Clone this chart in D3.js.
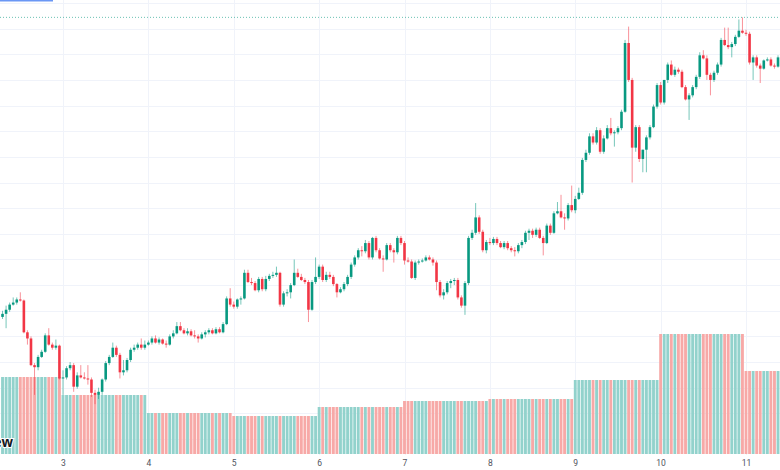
<!DOCTYPE html>
<html><head><meta charset="utf-8">
<script src="https://cdn.jsdelivr.net/npm/d3@7"></script>
<style>html,body{margin:0;padding:0;background:#fff;overflow:hidden}</style>
</head><body>
<svg id="c" width="780" height="470"></svg>
<script>
// hourly OHLC (arbitrary price units), one row per day (day 2 partial, day 11 partial)
const open = [
1119,1122,1126,1131,1133,1136,1135,1104,1098,1072,1070,1080,1085,1101,1092,1089,1091,
1059,1060,1069,1072,1051,1062,1060,1059,1058,1045,1043,1046,1058,1074,1080,1089,1082,1065,1067,1077,1087,1089,1092,1089,
1092,1094,1098,1094,1097,1093,1092,1100,1103,1110,1106,1103,1105,1101,1100,1098,1102,1104,1106,1103,1107,1104,1112,1137,
1131,1129,1136,1137,1162,1153,1152,1145,1156,1146,1156,1159,1160,1162,1131,1142,1143,1150,1162,1158,1155,1153,1126,1153,
1158,1168,1155,1160,1158,1151,1143,1146,1151,1158,1170,1177,1184,1183,1191,1177,1196,1184,1176,1175,1189,1184,1182,1196,
1191,1174,1173,1157,1172,1173,1174,1177,1175,1172,1153,1140,1143,1152,1154,1155,1138,1130,1152,1196,1201,1216,1202,1184,
1192,1191,1195,1191,1187,1191,1186,1184,1183,1189,1192,1201,1203,1199,1204,1196,1191,1208,1201,1220,1222,1216,1215,1228,
1223,1234,1240,1272,1279,1295,1289,1301,1280,1293,1303,1298,1299,1303,1319,1386,1350,1284,1304,1273,1282,1294,1304,1324,
1345,1328,1350,1365,1355,1360,1358,1343,1331,1335,1343,1353,1374,1371,1355,1350,1357,1365,1389,1384,1382,1385,1392,1398,
1396,1395,1367,1372,1364,1361,1369,1370,1364,1363];
const high = [
1125,1130,1133,1138,1138,1143,1136,1106,1100,1074,1082,1087,1103,1108,1094,1097,1092,
1067,1071,1075,1074,1065,1072,1065,1072,1060,1048,1050,1059,1076,1082,1094,1091,1084,1077,1079,1089,1092,1094,1098,1096,
1096,1100,1101,1099,1098,1096,1102,1106,1114,1114,1108,1108,1107,1106,1102,1104,1106,1108,1108,1109,1109,1114,1139,1147,
1134,1137,1139,1165,1165,1157,1154,1158,1158,1159,1161,1163,1168,1163,1144,1146,1152,1175,1166,1161,1157,1155,1155,1177,
1170,1170,1163,1163,1160,1152,1148,1153,1160,1172,1179,1186,1188,1194,1193,1197,1198,1186,1179,1191,1191,1186,1198,1198,
1193,1177,1175,1174,1175,1176,1179,1179,1177,1174,1155,1146,1154,1156,1157,1157,1140,1154,1198,1204,1230,1218,1204,1194,
1196,1197,1197,1193,1193,1193,1188,1187,1191,1194,1203,1205,1205,1206,1206,1198,1210,1210,1222,1231,1238,1220,1230,1247,
1237,1245,1274,1282,1298,1298,1304,1303,1296,1306,1313,1301,1305,1321,1389,1402,1352,1306,1306,1282,1296,1306,1326,1347,
1348,1350,1367,1369,1363,1362,1360,1345,1337,1345,1355,1377,1379,1374,1357,1359,1367,1391,1401,1401,1387,1394,1409,1411,
1399,1397,1374,1374,1366,1370,1372,1372,1366,1374];
const low = [
1117,1108,1124,1130,1131,1134,1103,1092,1071,1043,1067,1079,1084,1091,1087,1087,1058,
1043,1058,1067,1046,1049,1059,1058,1053,1041,1034,1039,1043,1056,1072,1079,1080,1059,1062,1065,1075,1085,1087,1087,1087,
1091,1092,1093,1092,1092,1089,1091,1098,1102,1105,1102,1101,1100,1098,1094,1097,1099,1102,1102,1102,1103,1103,1111,1129,
1127,1127,1131,1136,1152,1150,1144,1143,1144,1144,1154,1157,1158,1129,1129,1139,1137,1149,1157,1154,1151,1114,1125,1151,
1156,1153,1153,1156,1149,1138,1142,1144,1149,1156,1168,1175,1178,1181,1175,1175,1182,1175,1163,1174,1182,1172,1180,1189,
1170,1172,1156,1155,1170,1172,1173,1174,1169,1145,1138,1136,1141,1147,1150,1136,1128,1121,1150,1194,1199,1200,1182,1181,
1189,1189,1189,1186,1185,1184,1182,1178,1181,1186,1190,1194,1196,1197,1195,1179,1190,1199,1200,1219,1215,1204,1213,1221,
1220,1233,1238,1270,1277,1287,1287,1278,1278,1292,1296,1285,1297,1301,1318,1348,1250,1280,1270,1260,1260,1292,1303,1322,
1326,1326,1347,1354,1353,1356,1342,1330,1311,1333,1341,1351,1370,1350,1335,1348,1355,1363,1383,1380,1372,1383,1391,1395,
1393,1365,1350,1362,1347,1360,1368,1363,1361,1362];
const close = [
1122,1126,1131,1133,1136,1135,1104,1098,1072,1070,1080,1085,1101,1092,1089,1091,1059,
1060,1069,1072,1051,1062,1060,1059,1058,1045,1043,1046,1058,1074,1080,1089,1082,1065,1067,1077,1087,1089,1092,1089,1092,
1094,1098,1094,1097,1093,1092,1100,1103,1110,1106,1103,1105,1101,1100,1098,1102,1104,1106,1103,1107,1104,1112,1137,1131,
1129,1136,1137,1162,1153,1152,1145,1156,1146,1156,1159,1160,1162,1131,1142,1143,1150,1162,1158,1155,1153,1126,1153,1158,
1168,1155,1160,1158,1151,1143,1146,1151,1158,1170,1177,1184,1183,1191,1177,1196,1184,1176,1175,1189,1184,1182,1196,1191,
1174,1173,1157,1172,1173,1174,1177,1175,1172,1153,1140,1143,1152,1154,1155,1138,1130,1152,1196,1201,1216,1202,1184,1192,
1191,1195,1191,1187,1191,1186,1184,1183,1189,1192,1201,1203,1199,1204,1196,1191,1208,1201,1220,1222,1216,1215,1228,1223,
1234,1240,1272,1279,1295,1289,1301,1280,1293,1303,1298,1299,1303,1319,1386,1350,1284,1304,1273,1282,1294,1304,1324,1345,
1328,1350,1365,1355,1360,1358,1343,1331,1335,1343,1353,1374,1371,1355,1350,1357,1365,1389,1384,1382,1385,1392,1398,1396,
1395,1367,1372,1364,1361,1369,1370,1364,1363,1372];
// daily volume (same for every hourly bar of a day), days 2..11
const dayVolumes = [3850, 2950, 2050, 1900, 2350, 2650, 2750, 3700, 6000, 4150];
const dayLabels = ["3","4","5","6","7","8","9","10","11"];
const priceGrid = [1000,1025,1050,1075,1100,1125,1150,1175,1200,1225,1250,1275,1300,1325,1350,1375,1400,1425];

const firstCandle = new Date(2024, 2, 2, 7);
const times = open.map((_, i) => d3.timeHour.offset(firstCandle, i));
const dayDates = dayLabels.map(l => new Date(2024, 2, +l));

const svg = d3.select("#c");
const x = d3.scaleTime().domain([dayDates[0], dayDates[dayDates.length - 1]]).range([63, 746]);
const y = d3.scaleLinear().domain([1000, 1425]).range([439, 3]);
const v = d3.scaleLinear().domain([0, 6000]).range([454, 334]);
const step = x(d3.timeHour.offset(dayDates[0], 1)) - x(dayDates[0]);

const UP = "#089981", DOWN = "#f23645";
const VUP = "#92d2cc", VDOWN = "#f7a9a7";
const GRID = "#f0f3fa";

// grid
svg.append("g").selectAll("line").data(priceGrid).join("line")
  .attr("x1", 0).attr("x2", 780)
  .attr("y1", d => Math.round(y(d)) + 0.5).attr("y2", d => Math.round(y(d)) + 0.5)
  .attr("stroke", GRID).attr("stroke-width", 1);
svg.append("g").selectAll("line").data(dayDates).join("line")
  .attr("y1", 0).attr("y2", 455)
  .attr("x1", d => Math.round(x(d)) + 0.5).attr("x2", d => Math.round(x(d)) + 0.5)
  .attr("stroke", GRID).attr("stroke-width", 1);

// volume
const startDay = d3.timeDay.floor(firstCandle);
svg.append("g").selectAll("rect").data(times).join("rect")
  .attr("x", d => x(d) - step / 2 + 0.35)
  .attr("width", step - 0.7)
  .attr("y", (d) => v(dayVolumes[d3.timeDay.count(startDay, d)]))
  .attr("height", d => v(0) - v(dayVolumes[d3.timeDay.count(startDay, d)]))
  .attr("fill", (d, i) => close[i] >= open[i] ? VUP : VDOWN);

// highest-high dotted line
svg.append("line")
  .attr("x1", 0).attr("x2", 780)
  .attr("y1", y(d3.max(high))).attr("y2", y(d3.max(high)))
  .attr("stroke", UP).attr("stroke-opacity", 0.6)
  .attr("stroke-width", 1).attr("stroke-dasharray", "1,2");

// candles
const cg = svg.append("g");
cg.selectAll("line").data(times).join("line")
  .attr("x1", d => x(d)).attr("x2", d => x(d))
  .attr("y1", (d, i) => y(high[i])).attr("y2", (d, i) => y(low[i]))
  .attr("stroke", (d, i) => close[i] >= open[i] ? UP : DOWN)
  .attr("stroke-opacity", 0.55).attr("stroke-width", 1);
cg.selectAll("rect").data(times).join("rect")
  .attr("x", d => x(d) - 1.3).attr("width", 2.6)
  .attr("y", (d, i) => y(Math.max(open[i], close[i])))
  .attr("height", (d, i) => Math.max(1, Math.abs(y(open[i]) - y(close[i]))))
  .attr("fill", (d, i) => close[i] >= open[i] ? UP : DOWN);

// x axis
const ax = svg.append("g").attr("transform", "translate(0,455)")
  .call(d3.axisBottom(x).tickValues(dayDates).tickFormat((d, i) => dayLabels[i]).tickSize(0).tickPadding(5));
ax.select(".domain").remove();
ax.selectAll("text").attr("font-family", "Roboto, 'Noto Sans', sans-serif").attr("font-size", 8.5).attr("fill", "#50535e");

// watermark (clipped at left edge, as in the reference)
svg.append("text").attr("x", 13).attr("y", 446.5).attr("text-anchor", "end")
  .attr("font-family", "'Open Sans', 'DejaVu Sans', sans-serif").attr("font-weight", 700)
  .attr("font-size", 13.5).attr("fill", "#131722")
  .attr("stroke", "#fff").attr("stroke-width", 2).attr("paint-order", "stroke")
  .text("TradingView");

// top-left blue strip
svg.append("rect").attr("x", 0).attr("y", 0).attr("width", 53).attr("height", 1.5).attr("fill", "#6a97f5");
</script>
</body></html>
